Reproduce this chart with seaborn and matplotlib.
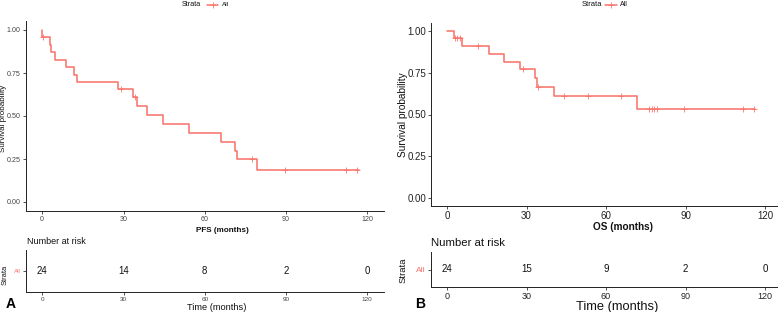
import numpy as np
import pandas as pd
import matplotlib
matplotlib.use("Agg")
import matplotlib.pyplot as plt
from matplotlib.lines import Line2D
import seaborn as sns

# ---------------- data ----------------
pfs_time = [0, 0, 2.7, 3.4, 4.6, 8.8, 11.7, 12.8, 28.1, 33.5, 34.8, 38.8, 44.7, 54.3, 65.9, 71.2, 71.8, 79.3, 117.0]
pfs_surv = [1.0, 0.957, 0.914, 0.870, 0.826, 0.782, 0.738, 0.696, 0.655, 0.612, 0.558, 0.506, 0.454, 0.403, 0.351, 0.299, 0.251, 0.187, 0.187]
pfs_censor = [0.3, 29.2, 34.4, 77.5, 89.7, 112.0, 116.2]

os_time = [0, 2.6, 5.8, 15.8, 21.6, 27.7, 33.2, 33.8, 40.5, 71.6, 116.4]
os_surv = [1.0, 0.957, 0.912, 0.864, 0.816, 0.772, 0.717, 0.667, 0.613, 0.535, 0.535]
os_censor = [3.0, 3.9, 4.9, 11.6, 28.6, 34.5, 44.2, 53.3, 65.5, 76.2, 77.2, 78.1, 79.1, 89.5, 111.8, 115.8]

risk_times = [0, 30, 60, 90, 120]
pfs_risk = [24, 14, 8, 2, 0]
os_risk = [24, 15, 9, 2, 0]

y_ticks = [0.0, 0.25, 0.5, 0.75, 1.0]
y_tick_labels = ["0.00", "0.25", "0.50", "0.75", "1.00"]
strata_labels = ["All"]

RED = "#F8766D"
W, H = 778, 312

sns.set_theme(style="white")
plt.rcParams["font.family"] = ["Liberation Sans", "DejaVu Sans"]

fig = plt.figure(figsize=(W / 100, H / 100), dpi=100)


def fx(x):
    return x / W


def fy(y):
    return 1 - y / H


def box(l, t, r, b):
    return [fx(l), fy(b), (r - l) / W, (b - t) / H]


def km(ax, times, surv, cens, lw, ms, mew):
    df = pd.DataFrame({"time": times, "surv": surv})
    sns.lineplot(data=df, x="time", y="surv", drawstyle="steps-post", color=RED,
                 lw=lw, ax=ax, sort=False, estimator=None, legend=False)
    t = np.asarray(times)
    s = np.asarray(surv)
    idx = np.searchsorted(t, np.asarray(cens), side="right") - 1
    cdf = pd.DataFrame({"time": cens, "surv": s[idx]})
    sns.scatterplot(data=cdf, x="time", y="surv", marker="+", color=RED, s=ms,
                    linewidth=mew, ax=ax, legend=False, zorder=3)


def style_axes(ax, tick_size, tick_color):
    for side in ("top", "right"):
        ax.spines[side].set_visible(False)
    for side in ("left", "bottom"):
        ax.spines[side].set_color("#222222")
        ax.spines[side].set_linewidth(0.7)
    ax.tick_params(axis="both", length=2.2, width=0.6, color="#333333", pad=1.5,
                   labelsize=tick_size, labelcolor=tick_color, bottom=True, left=True)
    ax.set_xlabel("")
    ax.set_ylabel("")


def main_panel(rect, times, surv, cens, tick_size, lw, ms, mew, tick_color):
    ax = fig.add_axes(rect)
    km(ax, times, surv, cens, lw, ms, mew)
    ax.set_xlim(-6, 126)
    ax.set_ylim(-0.05, 1.05)
    ax.set_xticks(risk_times)
    ax.set_yticks(y_ticks)
    ax.set_yticklabels(y_tick_labels)
    style_axes(ax, tick_size, tick_color)
    return ax


def risk_panel(rect, risk, num_size, tick_size, strata_size, tick_color):
    ax = fig.add_axes(rect)
    ax.set_xlim(-6, 126)
    ax.set_ylim(0.5, 1.5)
    ax.set_xticks(risk_times)
    ax.set_yticks([1])
    ax.set_yticklabels(strata_labels)
    style_axes(ax, tick_size, tick_color)
    for lab in ax.get_yticklabels():
        lab.set_color(RED)
        lab.set_fontsize(strata_size)
    for t, n in zip(risk_times, risk):
        ax.text(t, 1, str(n), ha="center", va="center", fontsize=num_size, color="#111111")
    return ax


# Panel A
axA = main_panel(box(26, 21.4, 383.5, 210.6), pfs_time, pfs_surv, pfs_censor,
                 5.1, 1.15, 14, 0.6, "#444444")
rA = risk_panel(box(26, 250, 383.5, 292), pfs_risk, 6.9, 4.6, 4.5, "#444444")

# Panel B
axB = main_panel(box(431.1, 22.65, 780.9, 206.35), os_time, os_surv, os_censor,
                 7.0, 1.15, 16, 0.6, "#222222")
rB = risk_panel(box(431.1, 252, 780.9, 287), os_risk, 7.0, 6.5, 6.0, "#222222")

TXT = "#111111"
# Panel A texts
fig.text(fx(4), fy(118), "Survival probability", rotation=90, ha="center", va="center", fontsize=5.8, color=TXT)
fig.text(fx(222), fy(231), "PFS (months)", ha="center", va="center", fontsize=5.9, fontweight="bold", color=TXT)
fig.text(fx(26.7), fy(242), "Number at risk", ha="left", va="center", fontsize=6.5, color=TXT)
fig.text(fx(5), fy(275), "Strata", rotation=90, ha="center", va="center", fontsize=5.4, color=TXT)
fig.text(fx(217), fy(307), "Time (months)", ha="center", va="center", fontsize=6.7, color=TXT)
fig.text(fx(6), fy(304.5), "A", ha="left", va="center", fontsize=10, fontweight="bold", color="black")

# Panel B texts
fig.text(fx(403), fy(114.5), "Survival probability", rotation=90, ha="center", va="center", fontsize=7.3, color=TXT)
fig.text(fx(623), fy(227), "OS (months)", ha="center", va="center", fontsize=7.2, fontweight="bold", color=TXT)
fig.text(fx(430.7), fy(243), "Number at risk", ha="left", va="center", fontsize=8.2, color=TXT)
fig.text(fx(403), fy(270), "Strata", rotation=90, ha="center", va="center", fontsize=6.8, color=TXT)
fig.text(fx(616.7), fy(307), "Time (months)", ha="center", va="center", fontsize=9.3, color=TXT)
fig.text(fx(415), fy(304.5), "B", ha="left", va="center", fontsize=10, fontweight="bold", color="black")


# Legends
def legend(x_strata, x_l0, x_l1, x_all, y, size_s, size_a):
    fig.text(fx(x_strata), fy(y), "Strata", ha="center", va="center", fontsize=size_s, color=TXT)
    fig.add_artist(Line2D([fx(x_l0), fx(x_l1)], [fy(y), fy(y)], transform=fig.transFigure,
                          color=RED, lw=1.1))
    fig.add_artist(Line2D([fx((x_l0 + x_l1) / 2)], [fy(y)], transform=fig.transFigure,
                          color=RED, marker="+", markersize=4, markeredgewidth=0.6, lw=0))
    fig.text(fx(x_all), fy(y), strata_labels[0], ha="left", va="center", fontsize=size_a, color=TXT)


legend(191, 207, 218, 222, 4.5, 5.2, 4.6)
legend(592, 605, 617, 620, 4.8, 5.5, 5.0)

fig.savefig("out.png", dpi=100)
